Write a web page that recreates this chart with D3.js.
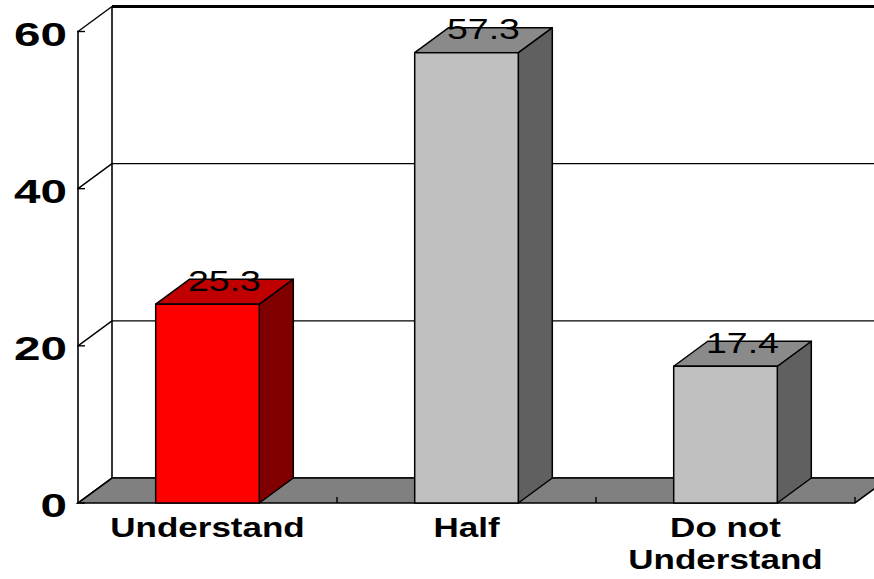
<!DOCTYPE html>
<html>
<head>
<meta charset="utf-8">
<script src="https://cdn.jsdelivr.net/npm/d3@7"></script>
<style>
  html, body { margin: 0; padding: 0; background: #fff; }
  svg { display: block; }
</style>
</head>
<body>
<svg id="chart" width="874" height="579"></svg>
<script>
// Survey result: share of respondents (%) by level of understanding
const categories = ["Understand", "Half", "Do not\nUnderstand"];
const values = [25.3, 57.3, 17.4];
const yTicks = [0, 20, 40, 60];

// Face colours per bar: front, top, side
const palettes = [
  { front: "#ff0000", top: "#c00000", side: "#800000" },
  { front: "#c0c0c0", top: "#8a8a8a", side: "#606060" },
  { front: "#c0c0c0", top: "#8a8a8a", side: "#606060" }
];

const svg = d3.select("#chart");

// 3-D depth offset
const DX = 34, DY = -25;

const x = d3.scaleBand()
  .domain(categories)
  .range([78, 855])
  .paddingInner(0.6)
  .paddingOuter(0.3);

const y = d3.scaleLinear().domain([0, 60]).range([503, 31.5]);

const xStretch = 1.25;

// Back wall gridlines
const grid = svg.append("g");
yTicks.forEach(t => {
  grid.append("line")
    .attr("x1", 78 + DX).attr("x2", 874 + 40)
    .attr("y1", y(t) + DY).attr("y2", y(t) + DY)
    .attr("stroke", "#000")
    .attr("stroke-width", t === 60 ? 3 : 1.4);
  // diagonal from the front axis to the back wall
  grid.append("line")
    .attr("x1", 78).attr("y1", y(t))
    .attr("x2", 78 + DX).attr("y2", y(t) + DY)
    .attr("stroke", "#000").attr("stroke-width", 1.4);
});
// back wall left edge
grid.append("line")
  .attr("x1", 78 + DX).attr("x2", 78 + DX)
  .attr("y1", y(60) + DY).attr("y2", y(0) + DY)
  .attr("stroke", "#000").attr("stroke-width", 1.6);

// Floor
const x0 = x.range()[0], x1 = x.range()[1];
svg.append("polygon")
  .attr("points", [
    [x0, y(0)], [x1, y(0)], [x1 + DX, y(0) + DY], [x0 + DX, y(0) + DY]
  ].map(p => p.join(",")).join(" "))
  .attr("fill", "#808080")
  .attr("stroke", "#000")
  .attr("stroke-width", 1.6);

// Category boundary ticks on the floor
const step = x.step();
categories.forEach((c, i) => {
  const bx = x0 + step * (i + 1);
  svg.append("line")
    .attr("x1", bx).attr("x2", bx)
    .attr("y1", y(0)).attr("y2", y(0) - 6)
    .attr("stroke", "#000").attr("stroke-width", 1.4);
});

// Front value axis
svg.append("line")
  .attr("x1", 78).attr("x2", 78)
  .attr("y1", y(60)).attr("y2", y(0))
  .attr("stroke", "#000").attr("stroke-width", 1.6);
yTicks.forEach(t => {
  svg.append("line")
    .attr("x1", 77).attr("x2", 85)
    .attr("y1", y(t)).attr("y2", y(t))
    .attr("stroke", "#000").attr("stroke-width", 1.4);
  svg.append("text")
    .attr("transform", `translate(67,${y(t) + 14}) scale(1.4,1)`)
    .attr("text-anchor", "end")
    .attr("font-family", "'Liberation Sans', Arial, sans-serif")
    .attr("font-weight", "bold")
    .attr("font-size", 34)
    .attr("fill", "#000")
    .text(t);
});

// Bars
const bars = svg.append("g");
categories.forEach((c, i) => {
  const bx0 = x(c), bx1 = x(c) + x.bandwidth();
  const yt = y(values[i]), yb = y(0);
  const pal = palettes[i];
  const pts = a => a.map(p => p.join(",")).join(" ");
  // side
  bars.append("polygon")
    .attr("points", pts([[bx1, yt], [bx1 + DX, yt + DY], [bx1 + DX, yb + DY], [bx1, yb]]))
    .attr("fill", pal.side).attr("stroke", "#000").attr("stroke-width", 1.5)
    .attr("stroke-linejoin", "round");
  // top
  bars.append("polygon")
    .attr("points", pts([[bx0, yt], [bx0 + DX, yt + DY], [bx1 + DX, yt + DY], [bx1, yt]]))
    .attr("fill", pal.top).attr("stroke", "#000").attr("stroke-width", 1.5)
    .attr("stroke-linejoin", "round");
  // front
  bars.append("rect")
    .attr("x", bx0).attr("y", yt)
    .attr("width", bx1 - bx0).attr("height", yb - yt)
    .attr("fill", pal.front).attr("stroke", "#000").attr("stroke-width", 1.5);
});

// Value labels on the bar tops
categories.forEach((c, i) => {
  const cx = x(c) + x.bandwidth() / 2 + DX / 2;
  const cy = y(values[i]) + DY / 2 - 1;
  svg.append("text")
    .attr("transform", `translate(${cx},${cy}) scale(${xStretch},1)`)
    .attr("text-anchor", "middle")
    .attr("font-family", "'Liberation Sans', Arial, sans-serif")
    .attr("font-size", 30)
    .attr("fill", "#000")
    .text(values[i].toFixed(1));
});

// Category labels
categories.forEach(c => {
  const cx = x(c) + x.bandwidth() / 2;
  c.split("\n").forEach((line, k) => {
    svg.append("text")
      .attr("transform", `translate(${cx},${537 + k * 32}) scale(${xStretch},1)`)
      .attr("text-anchor", "middle")
      .attr("font-family", "'Liberation Sans', Arial, sans-serif")
      .attr("font-weight", "bold")
      .attr("font-size", 28)
      .attr("fill", "#000")
      .text(line);
  });
});
</script>
</body>
</html>
